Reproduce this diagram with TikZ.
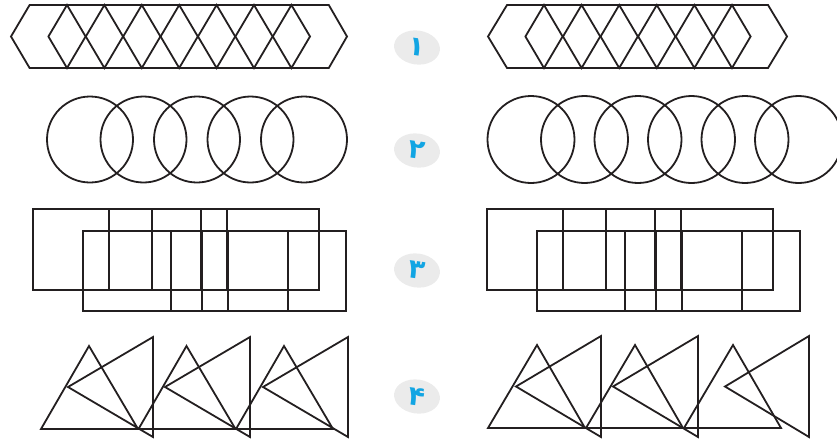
\documentclass[tikz,border=0pt]{standalone}
\usepackage{fontspec}
\usepackage{tikz}
\usetikzlibrary{shapes.geometric}
\TeXXeTstate=1
\newfontfamily\arabicfont[Script=Arabic]{DejaVu Sans}
\definecolor{inkline}{HTML}{231F20}
\definecolor{numblue}{HTML}{12A5E3}
\definecolor{badgegray}{HTML}{EBEBEB}

\begin{document}
\begin{tikzpicture}[x=1pt,y=-1pt,
    shape line/.style={draw=inkline,line width=1.8pt,line join=miter},
    badge/.style={ellipse,fill=badgegray,rotate=-8,minimum width=46pt,%
      minimum height=34pt,inner sep=0pt,text=numblue,%
      font=\arabicfont\bfseries\fontsize{27}{27}\selectfont}]
    \useasboundingbox (0,0) rectangle (837,440);
    % row 1: hexagon with diamonds
    \draw[shape line] (11,36.5) -- (29.6,5) -- (328.8,5) -- (347,36.5)
      -- (328.8,68) -- (29.6,68) -- cycle;
    \foreach \c in {67,104.4,141.8,179.2,216.6,254,291.4}
      \draw[shape line] (\c-18.6,36.5) -- (\c,5) -- (\c+18.6,36.5) -- (\c,68) -- cycle;
    \draw[shape line] (488,36.5) -- (507,5) -- (768,5) -- (787,36.5)
      -- (768,68) -- (507,68) -- cycle;
    \foreach \c in {544,581.6,619.2,656.8,694.4,732}
      \draw[shape line] (\c-18.6,36.5) -- (\c,5) -- (\c+18.6,36.5) -- (\c,68) -- cycle;
    % row 2: circles
    \foreach \c in {90,143.5,197,250.5,304}
      \draw[shape line] (\c,139.5) circle[radius=43];
    \begin{scope}
      \clip (440,80) rectangle (837,200);
      \foreach \c in {531,584.5,638,691.5,745,798.5}
        \draw[shape line] (\c,139.5) circle[radius=43.5];
    \end{scope}
    % row 3: rectangles
    \foreach \ox in {33,487}{
      \draw[shape line] (\ox,209) rectangle ++(286,81);
      \draw[shape line] (\ox+76,209) rectangle ++(43,81);
      \draw[shape line] (\ox+168,209) rectangle ++(26,81);
      \draw[shape line] (\ox+50,231) rectangle ++(263,80);
      \draw[shape line] (\ox+138,231) rectangle ++(31,80);
      \draw[shape line] (\ox+195,231) rectangle ++(60,80);
    }
    % row 4: triangles
    \foreach \ox in {41,138.5,236}
      \draw[shape line] (\ox,429) -- (\ox+48,346) -- (\ox+97,429) -- cycle;
    \foreach \vx in {153,250,348}
      \draw[shape line] (\vx,337) -- (\vx,437) -- (\vx-85,387) -- cycle;
    \foreach \ox in {488,586,684}
      \draw[shape line] (\ox,428) -- (\ox+49,345) -- (\ox+97,428) -- cycle;
    \foreach \vx/\tx in {601/516,698/613,809/725}
      \draw[shape line] (\vx,336) -- (\vx,437) -- (\tx,386.5) -- cycle;
    % number badges
    \node[badge] (one) at (417,47.5) {۱};
    \node[badge] (two) at (417,150.5) {۲};
    \node[badge] (three) at (417,270.5) {۳};
    \node[badge] (four) at (417,396.5) {۴};
  \end{tikzpicture}
\end{document}
